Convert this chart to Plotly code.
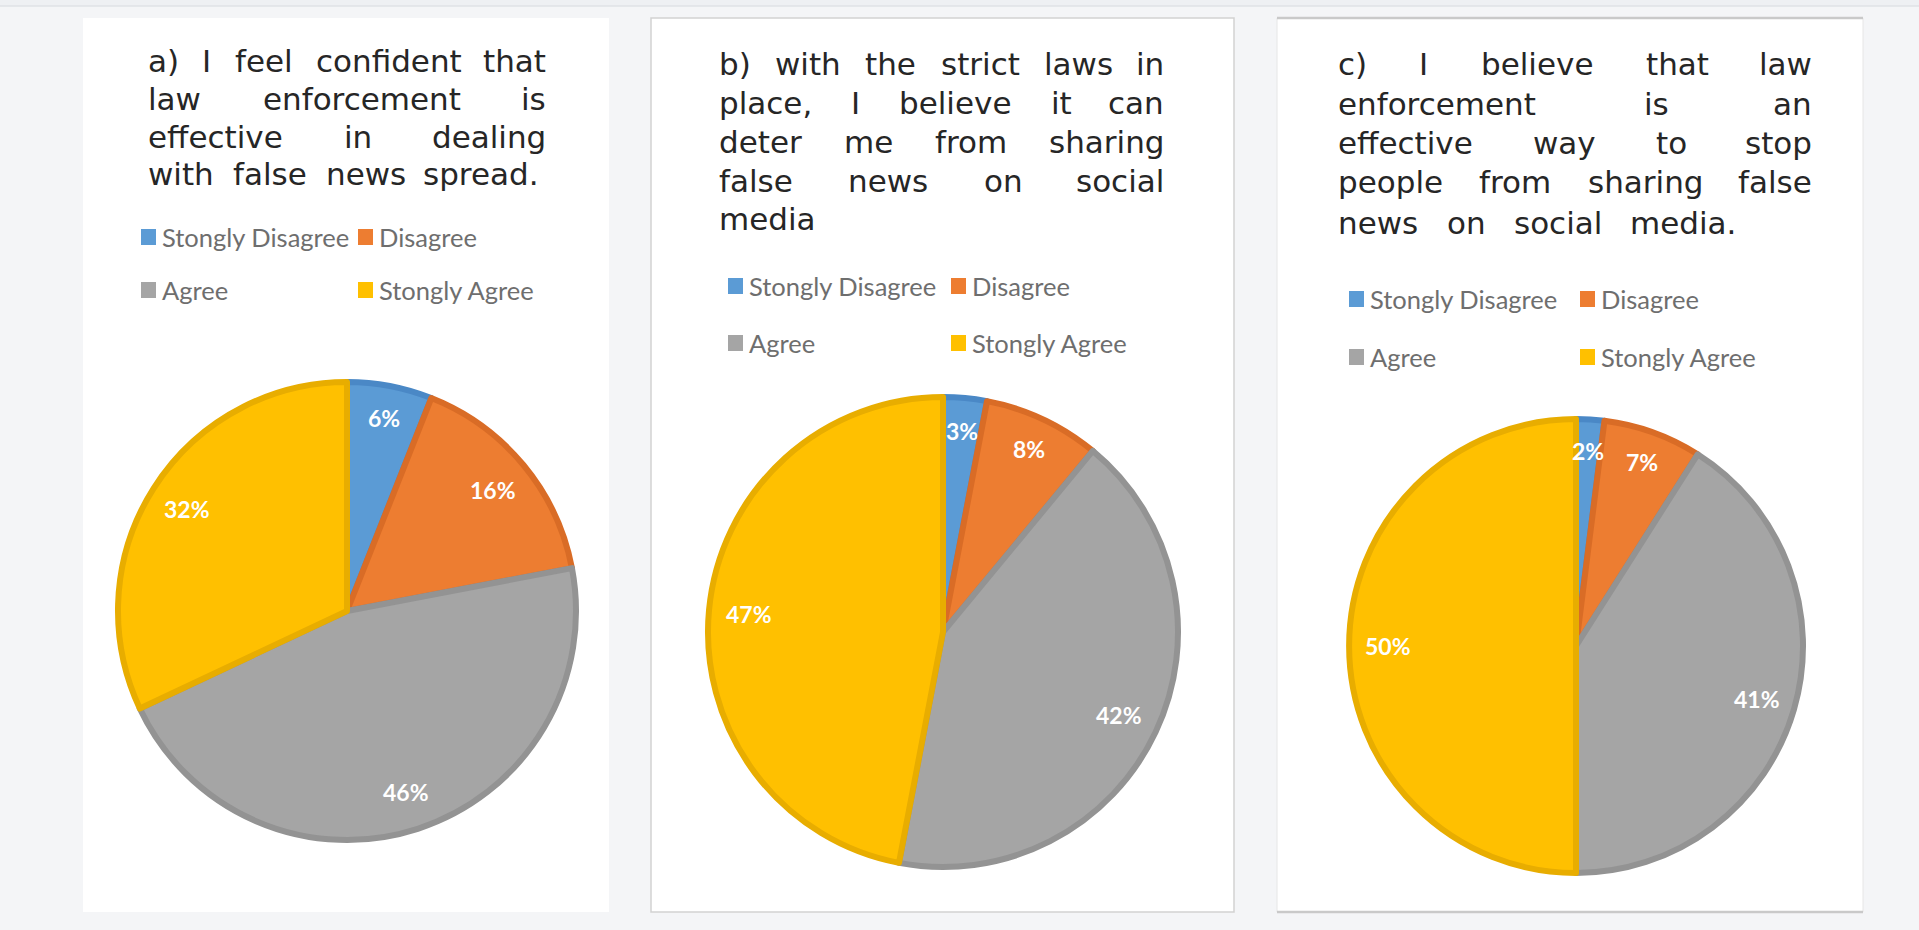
import math
import plotly.graph_objects as go

W, H = 1919, 930

# ---------------- data ----------------
categories = ["Stongly Disagree", "Disagree", "Agree", "Stongly Agree"]
values_a = [6, 16, 46, 32]
values_b = [3, 8, 42, 47]
values_c = [2, 7, 41, 50]

title_a = ["a) I feel confident that", "law enforcement is",
           "effective in dealing", "with false news spread."]
title_b = ["b) with the strict laws in", "place, I believe it can",
           "deter me from sharing", "false news on social", "media"]
title_c = ["c) I believe that law", "enforcement is an",
           "effective way to stop", "people from sharing false",
           "news on social media."]

# ---------------- styles ----------------
fill_colors = ["#5b9bd5", "#ed7d31", "#a5a5a5", "#ffc000"]
edge_colors = ["#4a88c6", "#d96c26", "#939393", "#e8ad00"]
BG = "#f4f5f7"
TITLE_FONT = "DejaVu Sans"
TITLE_SIZE = 31
LEG_FONT = "Lato"
LEG_SIZE = 25.5

# panel layout (pixel units)
panels = [
    dict(values=values_a, title=title_a, box=(83, 18, 609, 912),
         pie=(347, 611, 229), tleft=147, tright=547,
         ty=[61, 99, 137, 174], lastw=393,
         lx=(141, 358), ly=(237, 290)),
    dict(values=values_b, title=title_b, box=(651, 18, 1234, 912),
         pie=(943, 632, 235), tleft=718, tright=1165,
         ty=[64, 103, 142, 181, 219], lastw=None,
         lx=(728, 951), ly=(286, 343)),
    dict(values=values_c, title=title_c, box=(1277, 18, 1863, 912),
         pie=(1576, 646, 227), tleft=1337, tright=1813,
         ty=[64, 104, 143, 182, 223], lastw=400,
         lx=(1349, 1580), ly=(299, 357)),
]

# approximate DejaVu Sans advance widths (em)
CW = {' ': .318, 'a': .613, 'b': .635, 'c': .550, 'd': .635, 'e': .615,
      'f': .352, 'g': .635, 'h': .634, 'i': .278, 'l': .278, 'm': .974,
      'n': .634, 'o': .612, 'p': .635, 'r': .411, 's': .521, 't': .392,
      'u': .634, 'v': .592, 'w': .818, 'y': .592, 'I': .295, ',': .318,
      '.': .318, ')': .390}


def text_w(s, size):
    return sum(CW.get(ch, .6) for ch in s) * size


def fx(x):
    return x / W


def fy(y):
    return 1 - y / H


fig = go.Figure()
shapes = []
annotations = []

# top strip
shapes.append(dict(type="rect", xref="paper", yref="paper", x0=0, x1=1,
                   y0=fy(6), y1=1, fillcolor="#eef0f3", line=dict(width=0),
                   layer="below"))
shapes.append(dict(type="line", xref="paper", yref="paper", x0=0, x1=1,
                   y0=fy(6), y1=fy(6), line=dict(color="#dfe2e6", width=1.5),
                   layer="below"))

for i, p in enumerate(panels):
    x0, y0, x1, y1 = p["box"]
    if i == 0:
        line = dict(width=0)
    elif i == 1:
        line = dict(color="#d2d2d2", width=1.5)
    else:
        line = dict(color="#e6e6e6", width=1)
    shapes.append(dict(type="rect", xref="paper", yref="paper",
                       x0=fx(x0), x1=fx(x1), y0=fy(y1), y1=fy(y0),
                       fillcolor="white", line=line, layer="below"))
    if i == 2:
        for yy in (y0, y1):
            shapes.append(dict(type="line", xref="paper", yref="paper",
                               x0=fx(x0), x1=fx(x1), y0=fy(yy), y1=fy(yy),
                               line=dict(color="#c9c9c9", width=2.5),
                               layer="below"))

    # pie
    cx, cy, r = p["pie"]
    fig.add_trace(go.Pie(
        labels=categories, values=p["values"], sort=False,
        direction="clockwise", rotation=0,
        marker=dict(colors=fill_colors,
                    line=dict(color=edge_colors, width=6)),
        textinfo="none", hoverinfo="label+percent", showlegend=False,
        domain=dict(x=[fx(cx - r), fx(cx + r)], y=[fy(cy + r), fy(cy - r)]),
    ))
    total = sum(p["values"])
    cum = 0
    for v in p["values"]:
        frac = v / total
        mid = (cum + v / 2) / total * 2 * math.pi
        cum += v
        rr = 0.86 if frac < 0.1 else 0.83
        lx = cx + rr * r * math.sin(mid)
        ly = cy - rr * r * math.cos(mid)
        annotations.append(dict(
            x=fx(lx), y=fy(ly), xref="paper", yref="paper",
            text=f"{round(frac * 100)}%", showarrow=False,
            font=dict(family="Lato", size=23, color="white", weight="bold"),
            xanchor="center", yanchor="middle"))

    # title (justified, word by word)
    lines = p["title"]
    for li, line_txt in enumerate(lines):
        words = line_txt.split()
        ypos = p["ty"][li]
        last = li == len(lines) - 1
        if last and p["lastw"] is None:
            target = None
        elif last:
            target = p["lastw"]
        else:
            target = p["tright"] - p["tleft"]
        widths = [text_w(w, TITLE_SIZE) for w in words]
        if target is None or len(words) == 1:
            annotations.append(dict(
                x=fx(p["tleft"]), y=fy(ypos), xref="paper", yref="paper",
                text=line_txt, showarrow=False, xanchor="left",
                yanchor="middle", borderpad=0,
                font=dict(family=TITLE_FONT, size=TITLE_SIZE,
                          color="#262626")))
            continue
        gap = (target - sum(widths)) / (len(words) - 1)
        xcur = p["tleft"]
        for wi, w in enumerate(words):
            if wi == len(words) - 1:
                xa, xpos = "right", p["tleft"] + target
            else:
                xa, xpos = "left", xcur
            annotations.append(dict(
                x=fx(xpos), y=fy(ypos), xref="paper", yref="paper",
                text=w, showarrow=False, xanchor=xa, yanchor="middle",
                borderpad=0,
                font=dict(family=TITLE_FONT, size=TITLE_SIZE,
                          color="#262626")))
            xcur += widths[wi] + gap

    # legend (2 x 2)
    grid = [(0, 0), (1, 0), (0, 1), (1, 1)]
    for k, (col, row) in enumerate(grid):
        sx = p["lx"][col]
        sy = p["ly"][row]
        shapes.append(dict(type="rect", xref="paper", yref="paper",
                           x0=fx(sx), x1=fx(sx + 15),
                           y0=fy(sy + 8), y1=fy(sy - 8),
                           fillcolor=fill_colors[k], line=dict(width=0)))
        annotations.append(dict(
            x=fx(sx + 20), y=fy(sy), xref="paper", yref="paper",
            text=categories[k], showarrow=False, xanchor="left",
            yanchor="middle", borderpad=0,
            font=dict(family=LEG_FONT, size=LEG_SIZE, color="#6e6e6e")))

fig.update_layout(
    width=W, height=H,
    margin=dict(l=0, r=0, t=0, b=0),
    paper_bgcolor=BG, plot_bgcolor=BG,
    shapes=shapes, annotations=annotations,
)

fig.write_html("out.html", config={"displayModeBar": False})
